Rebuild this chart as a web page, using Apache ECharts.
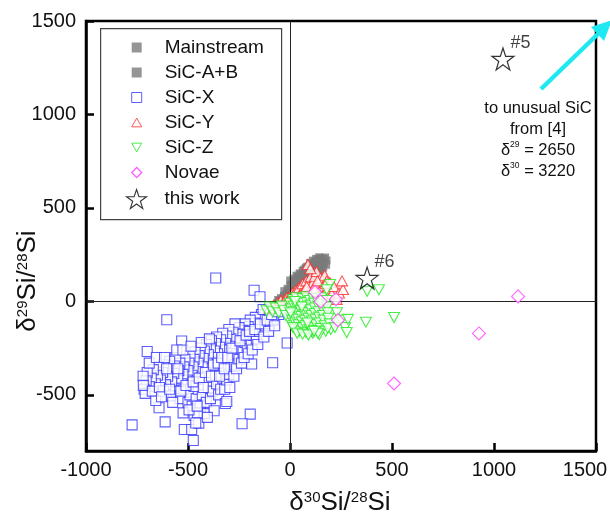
<!DOCTYPE html>
<html>
<head>
<meta charset="utf-8">
<script src="https://cdn.jsdelivr.net/npm/echarts@6/dist/echarts.min.js"></script>
<style>
  html, body { margin: 0; padding: 0; background: #fff; }
  #chart { width: 610px; height: 514px; }
</style>
</head>
<body>
<div id="chart"></div>
<script>
// δ30Si (x) vs δ29Si (y), per mil
var sicX = [
  [-40,-40],[-55,-70],[-70,-45],[-85,-60],[-95,-90],[-110,-55],[-120,-80],[-130,-110],[-140,-70],[-150,-95],
  [-160,-130],[-170,-85],[-175,-115],[-185,-150],[-195,-100],[-205,-135],[-210,-170],[-220,-120],[-230,-155],[-240,-190],
  [-250,-140],[-255,-175],[-265,-210],[-270,-120],[-280,-165],[-290,-200],[-295,-240],[-300,-150],[-310,-185],[-315,-225],
  [-325,-260],[-330,-170],[-340,-205],[-345,-245],[-355,-280],[-360,-190],[-365,-225],[-370,-265],[-380,-300],[-385,-210],
  [-390,-245],[-400,-285],[-405,-330],[-410,-230],[-420,-265],[-425,-305],[-430,-350],[-440,-250],[-445,-290],[-450,-330],
  [-455,-375],[-465,-270],[-470,-310],[-475,-350],[-480,-395],[-490,-290],[-495,-330],[-500,-370],[-505,-420],[-515,-310],
  [-520,-350],[-525,-390],[-530,-440],[-540,-330],[-545,-370],[-550,-410],[-560,-300],[-565,-345],[-570,-385],[-580,-430],
  [-590,-320],[-595,-360],[-600,-400],[-610,-445],[-620,-340],[-625,-380],[-635,-420],[-645,-350],[-650,-395],[-660,-440],
  [-670,-365],[-680,-410],[-690,-455],[-700,-380],[-705,-425],[-715,-470],[-720,-400],
  [-560,-480],[-540,-520],[-520,-470],[-500,-540],[-490,-500],[-480,-560],[-470,-610],[-460,-520],[-450,-470],[-440,-560],
  [-430,-500],[-420,-600],[-410,-540],[-400,-460],[-390,-520],[-380,-480],[-360,-440],[-350,-500],[-340,-470],[-330,-410],
  [-320,-470],[-310,-420],[-300,-390],[-290,-350],[-280,-300],[-270,-340],[-260,-280],[-250,-310],[-240,-250],[-230,-270],
  [-220,-220],[-210,-240],[-200,-200],[-190,-230],[-180,-180],[-165,-200],[-150,-160],[-135,-150],[-120,-130],[-100,-120],
  [-80,-100],[-65,-30],[-50,-20],[-132,-43],[-98,-52],[-83,-96],
  [-604,-98],[-531,-212],[-700,-268],[-364,125],[-176,60],[-147,25],[-14,-222],[-85,-328],[-188,-335],[-774,-660],
  [-612,-644],[-474,-744],[-518,-685],[-482,-685],[-447,-651],[-372,-585],[-195,-603],[-235,-654],[-642,-569],[-658,-530],
  [-710,-492],[-719,-449],[-317,-546],[-524,-596],[-454,-596],[-310,-535],[-620,-480],[-585,-505],[-470,-455],[-365,-395],
  [-690,-330],[-675,-480],[-655,-300],[-640,-460],[-630,-510],[-615,-300],[-605,-360],[-590,-470],[-575,-540],[-555,-260],
  [-550,-360],[-535,-480],[-525,-260],[-510,-450],[-495,-580],[-485,-240],[-475,-430],[-462,-650],[-455,-560],[-445,-410],
  [-435,-220],[-425,-460],[-415,-380],[-405,-620],[-395,-200],[-385,-400],[-375,-340],[-352,-330],[-345,-400],[-335,-300],
  [-322,-360],[-305,-300],[-295,-460],[-285,-250],[-275,-400],[-262,-360],[-245,-210],[-238,-330],[-225,-300],[-215,-180],
  [-205,-280],[-198,-160],[-185,-260],[-172,-150],[-158,-230],[-145,-120],[-128,-190],[-112,-100],[-105,-160],[-90,-70],
  [-75,-130],[-60,-55]
];

var mainstream = [
  [-60,-12],[-58,8],[-45,-5],[-44,18],[-32,5],[-30,30],[-28,55],[-16,15],[-14,40],[-12,68],[-2,25],[0,52],[2,85],[1,112],
  [14,38],[16,66],[13,96],[17,122],[28,52],[31,82],[29,108],[32,138],[44,63],[46,93],[43,124],[47,150],[58,78],[61,106],
  [59,138],[62,163],[74,92],[76,121],[73,151],[77,178],[88,104],[91,136],[89,164],[92,188],[104,121],[106,149],[103,178],
  [107,200],[118,134],[121,166],[119,194],[122,213],[133,151],[136,179],[134,204],[137,224],[148,164],[151,191],[149,214],
  [152,231],[163,182],[166,206],[164,227],[177,196],[179,219],[172,235],[10,8],[38,30],[70,60],[96,88],[126,118],[158,150],
  [-52,2],[-38,12],[-20,35],[-6,60],[8,90],[22,110],[38,130],[52,145],[68,170],[82,185],[98,205],[112,218],[128,228],[143,236]
];

var sicAB = [
  [-50,-2],[-22,22],[6,45],[24,70],[52,100],[84,130],[112,158],[142,188]
];

var sicY = [
  [-100,-35],[-80,-20],[-60,-10],[-45,5],[-35,-20],[-25,10],[-15,20],[-10,0],[0,30],[5,10],[12,45],[15,-5],[20,25],
  [30,60],[30,5],[38,40],[45,75],[45,20],[55,50],[62,95],[60,0],[65,30],[72,65],[80,110],[75,15],[85,45],[92,85],[88,198],
  [100,130],[95,25],[105,60],[112,100],[110,10],[118,40],[125,75],[122,135],[130,160],[135,25],[140,95],[145,55],[150,125],
  [160,80],[165,40],[170,140],[180,109],[185,70],[196,100],[205,40],[215,80],[229,11],[240,45],[260,64],[255,110],[100,175],
  [20,-15],[40,-10],[-5,12],[12,25],[28,15],[50,35],[68,20],[95,50],[82,80],[115,70],[135,110],[150,30],[175,95]
];

var sicZ = [
  [-115,-50],[-100,-30],[-85,-55],[-70,-35],[-55,-60],[-40,-25],[-30,-50],[-20,-75],
  [0,-10],[5,-40],[8,-70],[10,-100],[12,-130],[15,10],[18,-25],[20,-55],[22,-85],[25,-115],[28,-150],[30,20],[32,-5],
  [35,-35],[38,-65],[40,-95],[42,-125],[45,-160],[48,0],[50,-20],[52,-50],[55,-80],[58,-110],[60,-140],[62,15],[65,-10],
  [68,-40],[70,-70],[72,-100],[75,-130],[78,-165],[80,25],[82,-5],[85,-30],[88,-60],[90,-90],[92,-120],[95,-150],[98,5],
  [100,-20],[102,-45],[105,-75],[108,-105],[110,-140],[112,-170],[115,15],[118,-10],[120,-35],[122,-65],[125,-95],[128,-125],
  [130,-155],[135,0],[138,-25],[140,-55],[142,-85],[145,-115],[150,-145],[155,20],[158,-15],[160,-45],[162,-75],[165,-100],
  [170,-130],[175,-160],[180,5],[182,-30],[185,-60],[188,-90],[195,-120],[200,-150],[144,-177],[106,-160],[137,-170],
  [185,-143],[196,91],[180,62],[230,-60],[250,-100],[270,-139],[278,-166],[284,-96],[220,-140],[372,-111],[378,54],
  [436,62],[510,-86],[15,-140],[35,-170],[62,-175],[90,-180],[3,-60],[25,0],[58,-30],[86,-115],[118,-160]
];

var novae = [
  [123,50],[150,0],[225,12],[235,-100],[510,-439],[926,-171],[1118,27]
];

var thisWork = [[1044,1297],[378,125]];
var thisWorkLabels = ['#5', '#6'];

var xTicks = [-1000, -500, 0, 500, 1000, 1500];
var yTicks = [-500, 0, 500, 1000, 1500];

var FONT = '"Liberation Sans", Arial, sans-serif';
var STAR = 'path://M50,0L61.8,35.1L98.9,35.1L68.8,57L80.3,92.4L50,70.5L19.7,92.4L31.2,57L1.1,35.1L38.2,35.1Z';
var TRI_UP = 'path://M5,0L10,8.66L0,8.66Z';
var TRI_DOWN = 'path://M0,0L10,0L5,8.66Z';
var DIAMOND = 'path://M5,0L10,5L5,10L0,5Z';

var blue = '#3535ff', gray = '#7b7b7b', red = '#ff2a2a', green = '#22e822', pink = '#ff3cff';

function hollow(c, w) {
  return { color: '#fff', borderColor: c, borderWidth: w || 1.1 };
}

var chart = echarts.init(document.getElementById('chart'));

var option = {
  animation: false,
  backgroundColor: '#fff',
  textStyle: { fontFamily: FONT },
  grid: {
    left: 86, right: 14, top: 21, bottom: 63, outerBoundsMode: 'none', containLabel: false,
    show: true, borderColor: '#000', borderWidth: 2.5, backgroundColor: 'transparent'
  },
  xAxis: {
    type: 'value', min: xTicks[0], max: xTicks[xTicks.length - 1], interval: 500,
    axisLine: { onZero: false, lineStyle: { color: '#000', width: 2.5 } },
    axisTick: { inside: true, length: 8, lineStyle: { color: '#000', width: 2.5 } },
    axisLabel: { fontSize: 20, color: '#111', margin: 9, fontFamily: FONT,
      formatter: function (v) {
        // last label is pulled left so it stays inside the picture
        return v === xTicks[xTicks.length - 1] ? '{m|' + v + '}' : String(v);
      },
      rich: { m: { fontSize: 20, color: '#111', fontFamily: FONT, padding: [0, 22, 0, 0] } } },
    splitLine: { show: false }
  },
  yAxis: {
    type: 'value', min: -800, max: 1500,
    axisLine: { onZero: false, lineStyle: { color: '#000', width: 2.5 } },
    axisTick: { inside: true, length: 8, customValues: yTicks, lineStyle: { color: '#000', width: 2.5 } },
    axisLabel: { fontSize: 20, color: '#111', margin: 10, customValues: yTicks, fontFamily: FONT,
      formatter: function (v) { return String(v); } },
    splitLine: { show: false }
  },
  legend: [{
    left: 131, top: 38, orient: 'vertical', padding: 0,
    itemWidth: 10, itemHeight: 10, itemGap: 6, selectedMode: false,
    textStyle: { fontSize: 19, lineHeight: 19, color: '#111', fontFamily: FONT, padding: [0, 0, 0, 18] },
    data: [
      { name: 'Mainstream', icon: 'rect', itemStyle: { color: gray, borderWidth: 0 } },
      { name: 'SiC-A+B', icon: 'rect', itemStyle: { color: gray, borderWidth: 0 } },
      { name: 'SiC-X', icon: 'rect', itemStyle: hollow(blue, 1) },
      { name: 'SiC-Y', icon: TRI_UP, itemStyle: hollow(red, 1) },
      { name: 'SiC-Z', icon: TRI_DOWN, itemStyle: hollow(green, 1) },
      { name: 'Novae', icon: DIAMOND, itemStyle: hollow(pink, 1.4) }
    ]
  }, {
    left: 126, top: 189, orient: 'vertical', padding: 0,
    itemWidth: 20, itemHeight: 20, selectedMode: false,
    textStyle: { fontSize: 19, lineHeight: 19, color: '#111', fontFamily: FONT, padding: [0, 0, 0, 13] },
    data: [{ name: 'this work', icon: STAR, itemStyle: hollow('#000', 1.1) }]
  }],
  graphic: [
    { type: 'rect', left: 100, top: 28, z: 1,
      shape: { width: 181, height: 191 },
      style: { fill: '#fff', stroke: '#444', lineWidth: 1.2 } },
    { type: 'text', x: 538, y: 98, z: 100,
      style: {
        text: 'to unusual SiC\nfrom [4]\n{d|δ}{s|29} = 2650\n{d|δ}{s|30} = 3220',
        fontSize: 16.5, lineHeight: 21, fontFamily: FONT, fill: '#111', align: 'center', verticalAlign: 'top',
        rich: {
          d: { fontSize: 16.5, fontFamily: FONT, fill: '#111' },
          s: { fontSize: 8.5, fontFamily: FONT, fill: '#111', verticalAlign: 'top', padding: [0, 0, 6, 0] }
        }
      } },
    { type: 'line', z: 100,
      shape: { x1: 541, y1: 89, x2: 598, y2: 34 },
      style: { stroke: '#1ee8f2', lineWidth: 4.5 } },
    { type: 'polygon', z: 100,
      shape: { points: [[612, 20], [591, 27], [604, 41]] },
      style: { fill: '#1ee8f2' } },
    { type: 'text', x: 340, y: 503, z: 100,
      style: {
        text: '{t|δ}{s|30}{t|Si/}{s|28}{t|Si}', align: 'center', verticalAlign: 'middle',
        rich: {
          t: { fontSize: 26, fontFamily: FONT, fill: '#111' },
          s: { fontSize: 15, fontFamily: FONT, fill: '#111', verticalAlign: 'top', padding: [0, 0, 10, 0] }
        }
      } },
    { type: 'text', x: 28, y: 281, rotation: Math.PI / 2, z: 100,
      style: {
        text: '{t|δ}{s|29}{t|Si/}{s|28}{t|Si}', align: 'center', verticalAlign: 'middle',
        rich: {
          t: { fontSize: 26, fontFamily: FONT, fill: '#111' },
          s: { fontSize: 15, fontFamily: FONT, fill: '#111', verticalAlign: 'top', padding: [0, 0, 10, 0] }
        }
      } }
  ],
  series: [
    { name: 'SiC-X', type: 'scatter', data: sicX, symbol: 'rect', symbolSize: 10, z: 2,
      itemStyle: hollow(blue, 1.1), emphasis: { disabled: true } },
    { name: 'Mainstream', type: 'scatter', data: mainstream, symbol: 'rect', symbolSize: 8, z: 3,
      itemStyle: { color: gray }, emphasis: { disabled: true } },
    { name: 'SiC-A+B', type: 'scatter', data: sicAB, symbol: 'rect', symbolSize: 8, z: 3,
      itemStyle: { color: gray }, emphasis: { disabled: true } },
    { name: 'SiC-Y', type: 'scatter', data: sicY, symbol: TRI_UP, symbolSize: [11, 10], z: 4,
      itemStyle: hollow(red, 1.1), emphasis: { disabled: true } },
    { name: 'SiC-Z', type: 'scatter', data: sicZ, symbol: TRI_DOWN, symbolSize: [11, 10], z: 5,
      itemStyle: hollow(green, 1.1), emphasis: { disabled: true } },
    { name: 'Novae', type: 'scatter', data: novae, symbol: DIAMOND, symbolSize: 13, z: 6,
      itemStyle: hollow(pink, 1.1), emphasis: { disabled: true } },
    { name: 'this work', type: 'scatter', data: thisWork, symbol: STAR, symbolSize: 22, z: 7,
      itemStyle: { color: 'rgba(255,255,255,0)', borderColor: '#000', borderWidth: 1.2 },
      label: {
        show: true, position: [19, -13], fontSize: 18, color: '#111', fontFamily: FONT,
        formatter: function (p) { return thisWorkLabels[p.dataIndex]; }
      },
      emphasis: { disabled: true } },
    // zero lines
    { name: 'zero', type: 'scatter', data: [], z: 8, silent: true,
      markLine: {
        silent: true, symbol: 'none', label: { show: false },
        lineStyle: { color: '#222', width: 1, type: 'solid' },
        data: [{ xAxis: 0 }, { yAxis: 0 }]
      } }
  ]
};

chart.setOption(option);
</script>
</body>
</html>
